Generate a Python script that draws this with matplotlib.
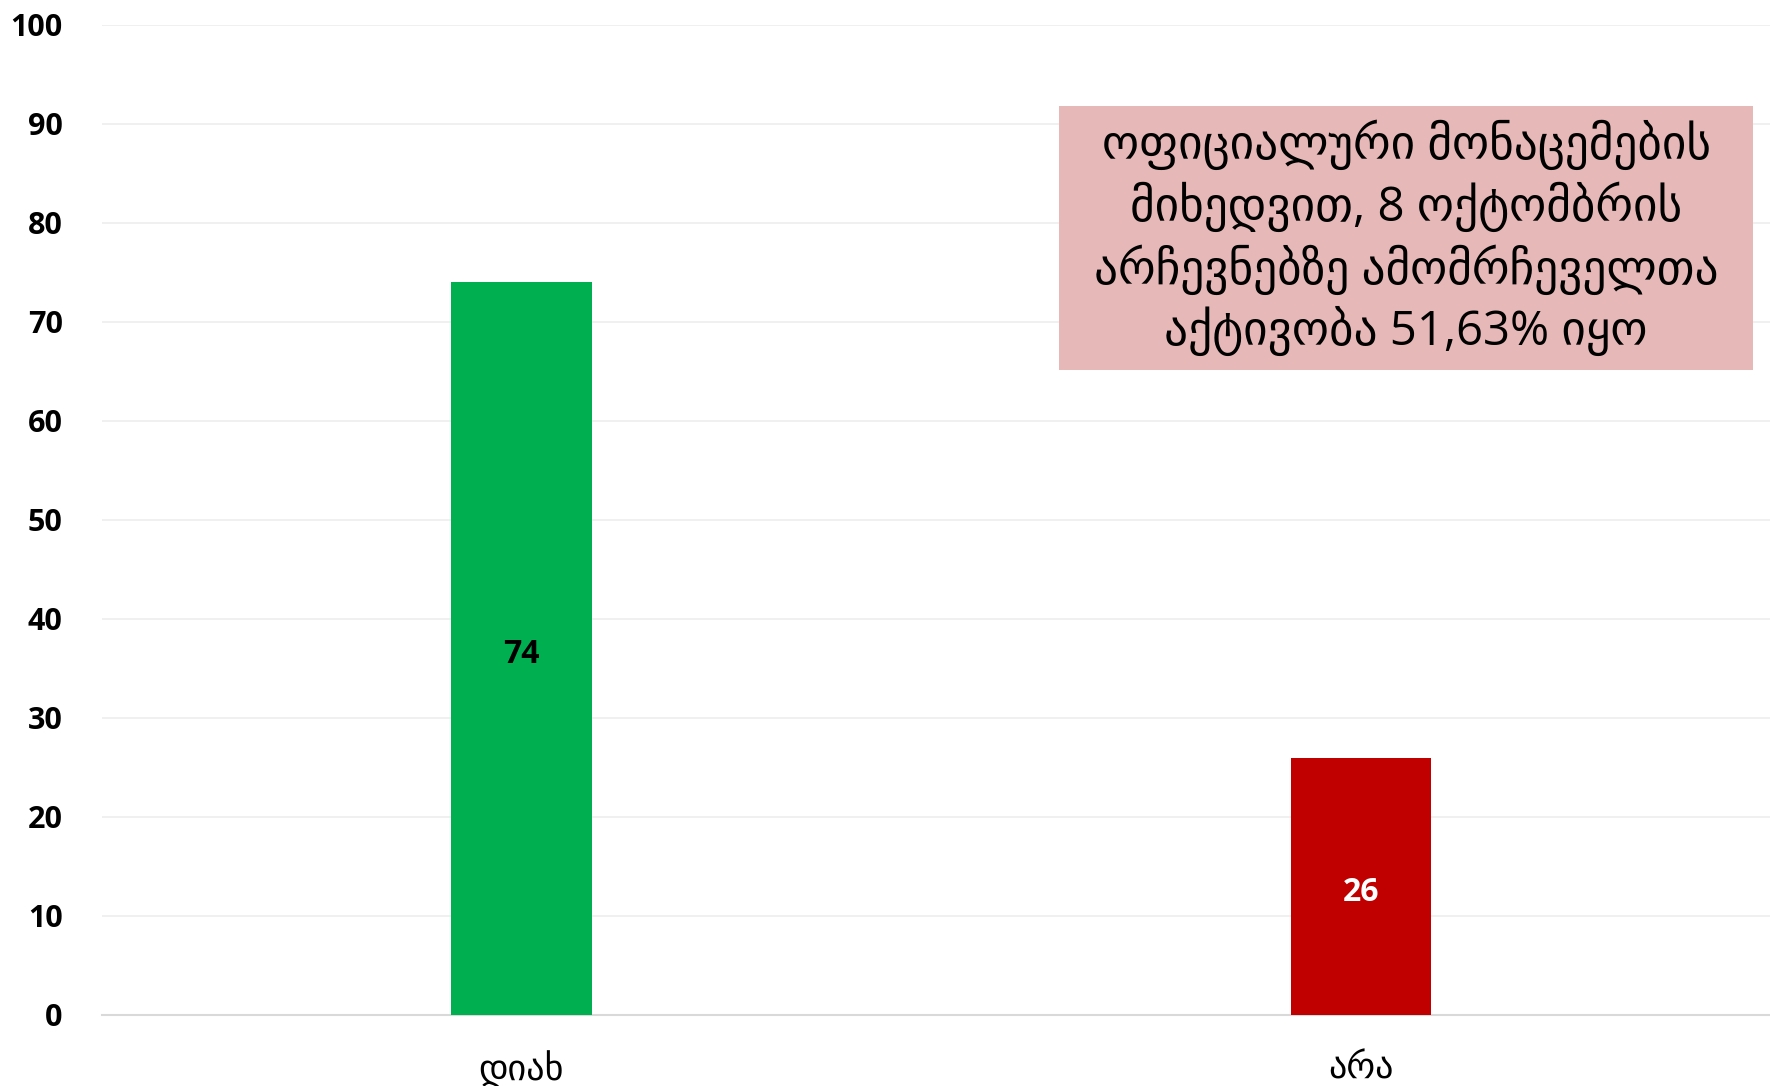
import matplotlib.pyplot as plt

# Data
categories = ["დიახ", "არა"]
values = [74, 26]
bar_colors = ["#00B050", "#C00000"]
label_colors = ["black", "white"]
yticks = list(range(0, 101, 10))
note = ("ოფიციალური მონაცემების\n"
        "მიხედვით, 8 ოქტომბრის\n"
        "არჩევნებზე ამომრჩეველთა\n"
        "აქტივობა 51,63% იყო")

FONTS = ["Open Sans", "DejaVu Sans"]

fig = plt.figure(figsize=(17.7, 10.86), dpi=100)
ax = fig.add_axes([101.6 / 1770, 1 - 1015 / 1086, 1 - 101.6 / 1770, (1015 - 24.8) / 1086])

x = range(len(categories))
bars = ax.bar(x, values, width=0.167, color=bar_colors, zorder=3)

for b, v, c in zip(bars, values, label_colors):
    ax.text(b.get_x() + b.get_width() / 2, v / 2 - 0.6, str(v), ha="center", va="center",
            fontsize=23, fontweight="bold", color=c, family=FONTS, zorder=4)

ax.set_xlim(-0.5, 1.487)
ax.set_ylim(0, 100)
ax.set_yticks(yticks)
ax.set_yticklabels([str(t) for t in yticks], fontsize=22, fontweight="bold", family=FONTS)
ax.set_xticks(list(x))
ax.set_xticklabels(categories, fontsize=26, family=FONTS)
ax.tick_params(axis="y", length=0, pad=28)
ax.tick_params(axis="x", length=0, pad=26)

ax.grid(axis="y", color="#EEEEEE", linewidth=1.2, zorder=0)
for s in ["top", "right", "left"]:
    ax.spines[s].set_visible(False)
ax.spines["bottom"].set_color("#D9D9D9")
ax.spines["bottom"].set_linewidth(1.5)

# annotation box
bx0, by0, bx1, by1 = 1059 / 1770, 1 - 370 / 1086, 1753 / 1770, 1 - 106 / 1086
fig.patches.append(plt.Rectangle((bx0, by0), bx1 - bx0, by1 - by0, transform=fig.transFigure,
                                 facecolor="#E6B8B7", edgecolor="none", zorder=5))
fig.text((bx0 + bx1) / 2, (by0 + by1) / 2, note, ha="center", va="center", fontsize=34,
         family=FONTS, linespacing=1.3, zorder=6)

fig.savefig("out.png", dpi=100)
